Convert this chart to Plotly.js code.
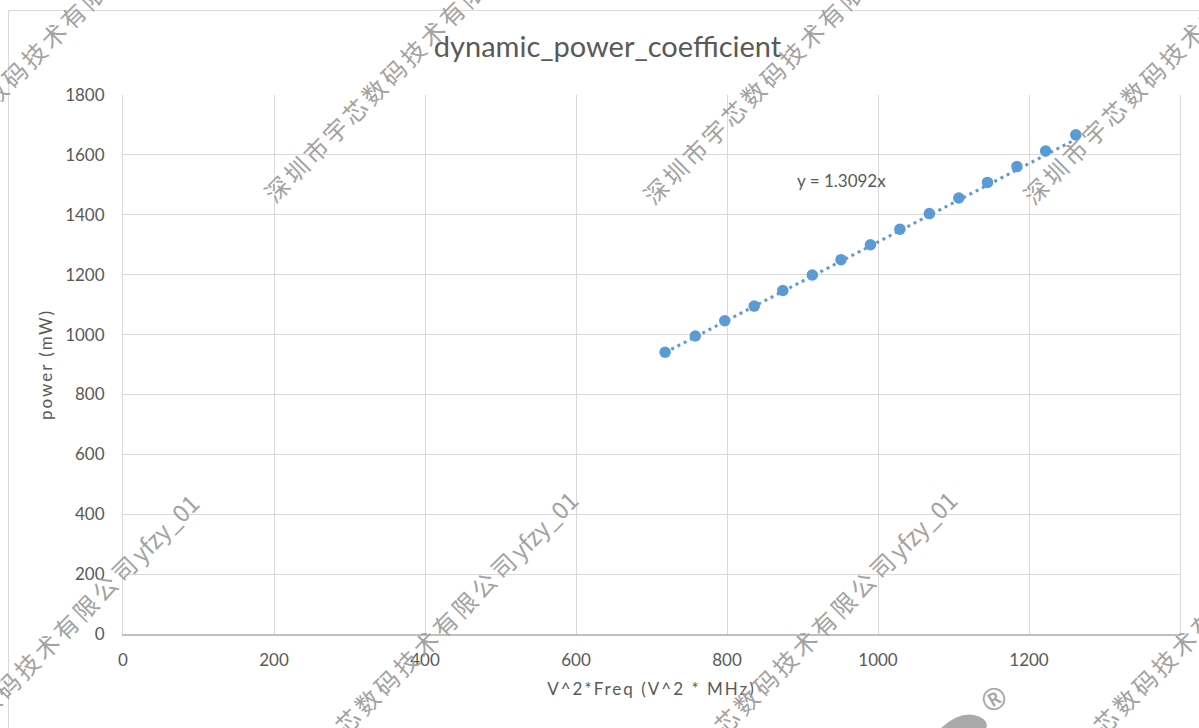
<!DOCTYPE html>
<html>
<head>
<meta charset="utf-8">
<script src="https://cdn.plot.ly/plotly-3.0.1.min.js"></script>
<style>html,body{margin:0;padding:0;background:#fff;}#chart{width:1199px;height:728px;}</style>
</head>
<body>
<div id="chart"></div>
<script>
// ---- data ----
var xValues = [718, 758, 797, 836, 874, 913, 951, 990, 1029, 1068, 1107, 1145, 1184, 1222, 1262];
var yValues = [941, 995, 1046, 1095, 1147, 1199, 1250, 1300, 1352, 1404, 1456, 1508, 1561, 1613, 1667];
var trendSlope = 1.3092;
var chartTitle = "dynamic_power_coefficient";
var xTitle = "V^2*Freq (V^2 * MHz)";
var yTitle = "power (mW)";
var equationLabel = "y = 1.3092x";
var xTicks = [0, 200, 400, 600, 800, 1000, 1200, 1400];
var yTicks = [0, 200, 400, 600, 800, 1000, 1200, 1400, 1600, 1800];
var watermarkCn = "深圳市宇芯数码技术有限公司";
var watermarkId = "yfzy_01";

// ---- layout constants ----
var W = 1199, H = 728;
var L = 123, R = 1180, T = 95, B = 634;
function px(x){ return (x - L) / (R - L); }
function py(y){ return (B - y) / (B - T); }

var txtColor = "#595959";
var font = "Lato, 'Open Sans', sans-serif";

var xMin = Math.min.apply(null, xValues), xMax = Math.max.apply(null, xValues);
var trendX = [xMin, xMax];
var trendY = trendX.map(function(v){ return trendSlope * v; });

var traces = [
  {
    x: trendX, y: trendY, type: "scatter", mode: "lines",
    line: {color: "#5b9bd5", width: 3, dash: "3px,4px"},
    hoverinfo: "skip", showlegend: false
  },
  {
    x: xValues, y: yValues, type: "scatter", mode: "markers",
    marker: {color: "#5b9bd5", size: 11.5},
    showlegend: false
  }
];

var wmText = '<span style="letter-spacing:3.5px">' + watermarkCn + '</span>' + watermarkId;
var wmPositions = [
  [44, 43], [423, 41], [802, 43], [1182, 43],
  [37, 654], [416, 651], [795, 651], [1174, 651]
];
var annotations = [];
annotations.push({
  x: 951, y: 1513, xref: "x", yref: "y", text: equationLabel, showarrow: false,
  font: {family: font, size: 17, color: txtColor}, xanchor: "center", yanchor: "middle"
});
wmPositions.forEach(function(p){
  annotations.push({
    x: px(p[0]), y: py(p[1]), xref: "paper", yref: "paper",
    text: wmText, showarrow: false, textangle: -45,
    xanchor: "center", yanchor: "middle",
    font: {family: "'Noto Sans CJK SC', sans-serif", size: 24, color: "rgb(162,162,162)"}
  });
});
annotations.push({
  x: px(993), y: py(698), xref: "paper", yref: "paper", text: "®", showarrow: false,
  textangle: -30, font: {family: "'Noto Sans', sans-serif", size: 30, color: "rgb(165,165,165)"},
  xanchor: "center", yanchor: "middle"
});

var shapes = [
  {type: "rect", xref: "paper", yref: "paper", x0: px(8.5), x1: px(1210), y0: py(10.5), y1: py(740),
   line: {color: "#d9d9d9", width: 1}, fillcolor: "rgba(0,0,0,0)", layer: "below"},
  {type: "path", xref: "paper", yref: "paper",
   path: "M " + px(940) + " " + py(729) + " Q " + px(958) + " " + py(712) + " " + px(974) + " " + py(715) +
         " Q " + px(990) + " " + py(719) + " " + px(986) + " " + py(729) + " Z",
   line: {width: 0}, fillcolor: "rgb(170,170,170)", layer: "above"}
];

var layout = {
  width: W, height: H,
  margin: {l: L, r: W - R, t: T, b: H - B, pad: 0},
  paper_bgcolor: "#ffffff", plot_bgcolor: "#ffffff",
  font: {family: font, color: txtColor},
  title: {text: chartTitle, x: 607.5 / W, xanchor: "center", y: 1 - 47 / H, yanchor: "middle",
          font: {family: font, size: 29, color: txtColor}},
  xaxis: {
    range: [0, 1400], tickvals: xTicks, ticktext: xTicks.map(String),
    showgrid: true, gridcolor: "#d9d9d9", gridwidth: 1,
    zeroline: false, showline: true, linecolor: "#bfbfbf", linewidth: 1.5,
    ticks: "", ticklabelstandoff: 10,
    tickfont: {family: font, size: 17, color: txtColor},
    title: {text: '<span style="letter-spacing:2px">' + xTitle + '</span>', standoff: 14,
            font: {family: font, size: 17, color: txtColor}}
  },
  yaxis: {
    range: [0, 1800], tickvals: yTicks, ticktext: yTicks.map(String),
    showgrid: true, gridcolor: "#d9d9d9", gridwidth: 1,
    zeroline: false, showline: true, mirror: true, linecolor: "#d9d9d9", linewidth: 1,
    ticks: "", ticklabelstandoff: 14,
    tickfont: {family: font, size: 17, color: txtColor},
    title: {text: '<span style="letter-spacing:2px">' + yTitle + '</span>', standoff: 8,
            font: {family: font, size: 17, color: txtColor}}
  },
  annotations: annotations,
  shapes: shapes,
  showlegend: false,
  hovermode: false
};

Plotly.newPlot("chart", traces, layout, {displayModeBar: false, staticPlot: true});
</script>
</body>
</html>
